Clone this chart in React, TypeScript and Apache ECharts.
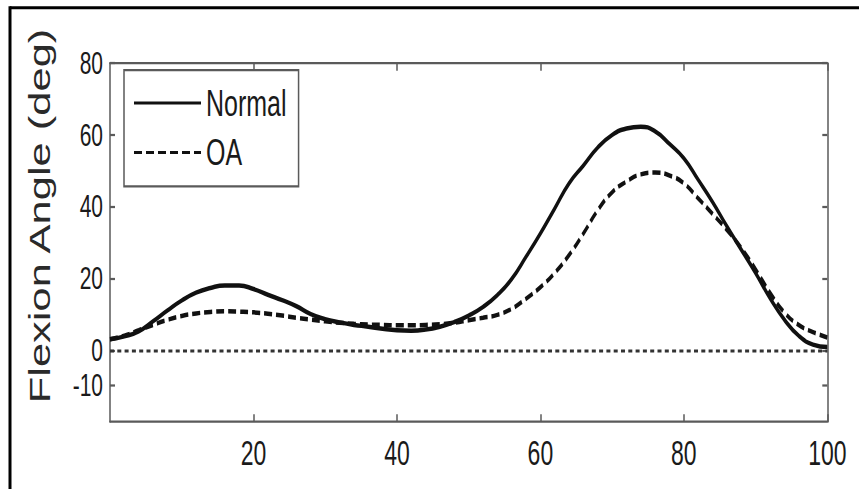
import React, { useEffect, useRef } from 'react';
import * as echarts from 'echarts';

// Gait cycle (%)
const xValues = [
  0, 2, 4, 6, 8, 10, 12, 14, 16, 18, 20, 22, 24, 26, 28, 30, 32, 34, 36, 38, 40,
  42, 44, 46, 48, 50, 52, 54, 56, 58, 60, 62, 64, 66, 68, 70, 72, 74, 76, 78, 80,
  82, 84, 86, 88, 90, 92, 94, 96, 98, 100,
];

// Knee flexion angle (deg), Normal
const normalValues = [
  3.0, 3.8, 5.2, 8.0, 11.0, 13.8, 16.0, 17.3, 18.0, 18.0, 17.0,
  15.4, 13.9, 12.2, 10.0, 8.6, 7.7, 7.0, 6.5, 5.9, 5.5,
  5.4, 5.7, 6.5, 7.8, 9.6, 12.0, 15.3, 19.8, 26.0, 32.5,
  39.5, 46.5, 51.5, 56.5, 60.0, 61.8, 62.3, 61.0, 57.5, 53.5,
  47.5, 41.3, 34.5, 28.0, 21.5, 14.5, 8.5, 4.0, 1.5, 0.8,
];

// Knee flexion angle (deg), OA
const oaValues = [
  3.0, 4.0, 5.5, 7.0, 8.4, 9.5, 10.2, 10.6, 10.8, 10.7, 10.5,
  10.1, 9.6, 9.0, 8.5, 8.0, 7.6, 7.3, 7.1, 7.0, 6.9,
  6.9, 7.0, 7.2, 7.6, 8.3, 9.0, 9.8, 11.5, 14.3, 17.5,
  21.5, 26.5, 32.5, 39.0, 44.0, 47.0, 49.0, 49.5, 48.7, 46.5,
  42.3, 38.0, 33.5, 28.5, 22.5, 16.0, 10.5, 7.0, 5.0, 3.5,
];

const xTicks = [20, 40, 60, 80, 100];
const yTicks = [-10, 0, 20, 40, 60, 80];
const yMin = -20;
const yMax = 80;
const seriesNames = ['Normal', 'OA'];
const yTitle = 'Flexion Angle (deg)';

export default function App() {
  const ref = useRef<HTMLDivElement>(null);

  useEffect(() => {
    document.body.style.margin = '0';
    const chart = echarts.init(ref.current!, null, { renderer: 'svg' });
    const font = '"Liberation Sans", Arial, Helvetica, sans-serif';
    const axisColor = '#5a5a5a';
    const textColor = '#1a1a1a';
    const lineColor = '#111111';

    const normalData = xValues.map((x, i) => [x, normalValues[i]]);
    const oaData = xValues.map((x, i) => [x, oaValues[i]]);

    const axisLine = { show: true, onZero: false, lineStyle: { color: axisColor, width: 1.5 } };
    const axisTickX = { show: true, inside: true, length: 5, customValues: xTicks, lineStyle: { color: axisColor, width: 1.5 } };
    const axisTickY = { show: true, inside: true, length: 5, customValues: yTicks, lineStyle: { color: axisColor, width: 1.5 } };
    const labelStyle = { fontFamily: font, color: textColor, hideOverlap: false };

    const xBase = { type: 'value', min: 0, max: 100, interval: 20, splitLine: { show: false }, axisLine, axisTick: axisTickX };
    const yBase = { type: 'value', min: yMin, max: yMax, interval: 10, splitLine: { show: false }, axisLine, axisTick: axisTickY };

    // the axis minimum carries an empty label so that -10 and 0 are both kept
    const yLabelValues = [yMin, ...yTicks];

    chart.setOption({
      animation: false,
      backgroundColor: '#ffffff',
      grid: { left: 110, right: 31.7, top: 42.2, bottom: 44.9, containLabel: false, outerBoundsMode: 'none' },
      xAxis: [
        { ...xBase, position: 'bottom', axisLabel: { ...labelStyle, fontSize: 23, margin: 9, customValues: xTicks } },
        { ...xBase, position: 'top', axisLabel: { show: false } },
      ],
      yAxis: [
        {
          ...yBase,
          position: 'left',
          axisLabel: {
            ...labelStyle,
            fontSize: 21,
            margin: 7,
            customValues: yLabelValues,
            showMinLabel: false,
            showMaxLabel: true,
            formatter: (v: number) => (yTicks.indexOf(v) >= 0 ? String(v) : ''),
          },
        },
        { ...yBase, position: 'right', axisLabel: { show: false } },
      ],
      legend: {
        data: seriesNames,
        orient: 'vertical',
        left: 124,
        top: 46.7,
        itemWidth: 67,
        itemHeight: 25,
        itemGap: 8,
        padding: [9.5, 12, 10, 9],
        borderColor: axisColor,
        borderWidth: 1.5,
        backgroundColor: '#ffffff',
        itemStyle: { opacity: 0 },
        textStyle: { fontSize: 25, fontFamily: font, color: textColor, lineHeight: 25 },
      },
      graphic: [
        { type: 'line', shape: { x1: 10, y1: 5.1, x2: 859, y2: 5.1 }, style: { stroke: '#000', lineWidth: 2 } },
        { type: 'line', shape: { x1: 10, y1: 4.1, x2: 10, y2: 326 }, style: { stroke: '#000', lineWidth: 3 } },
        {
          type: 'text',
          x: 40,
          y: 144,
          rotation: Math.PI / 2,
          style: {
            text: yTitle,
            fontSize: 29,
            fontFamily: font,
            fill: '#2a2a2a',
            align: 'center',
            verticalAlign: 'middle',
          },
        },
      ],
      series: [
        {
          name: seriesNames[0],
          type: 'line',
          data: normalData,
          smooth: true,
          symbol: 'none',
          lineStyle: { color: lineColor, width: 3, type: 'solid' },
          itemStyle: { color: lineColor },
          z: 3,
          markLine: {
            silent: true,
            symbol: 'none',
            label: { show: false },
            lineStyle: { color: '#333333', width: 2, type: [4, 3.3] },
            data: [{ yAxis: 0 }],
          },
        },
        {
          name: seriesNames[1],
          type: 'line',
          data: oaData,
          smooth: true,
          symbol: 'none',
          lineStyle: { color: lineColor, width: 3, type: [8, 4] },
          itemStyle: { color: lineColor },
          z: 3,
        },
      ],
    });

    return () => {
      chart.dispose();
    };
  }, []);

  return (
    <div style={{ width: 859, height: 489, position: 'relative', overflow: 'visible' }}>
      <div
        ref={ref}
        style={{
          width: 859,
          height: 326,
          position: 'absolute',
          left: 0,
          top: 0,
          transform: 'scaleY(1.5)',
          transformOrigin: '0 0',
        }}
      />
    </div>
  );
}
